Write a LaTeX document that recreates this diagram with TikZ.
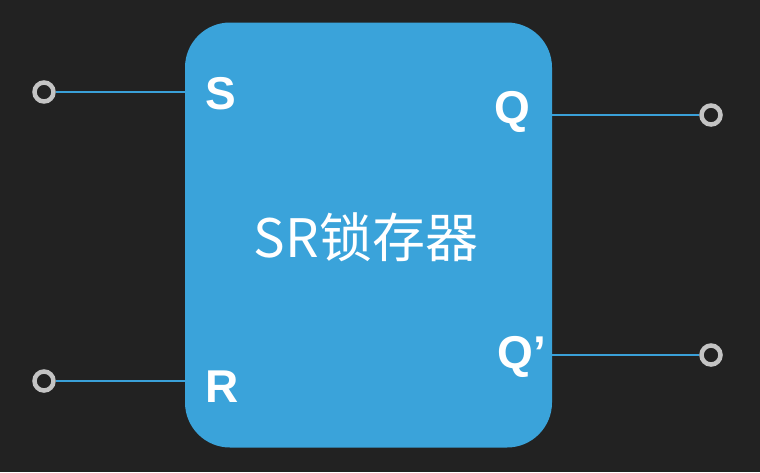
\documentclass[tikz,border=0pt]{standalone}
\usepackage{fontspec}
\setmainfont{Liberation Sans}
\newfontfamily\cjk{Noto Sans CJK SC}
\definecolor{bg}{RGB}{34,34,34}
\definecolor{boxblue}{RGB}{58,163,218}
\definecolor{wire}{RGB}{58,160,216}
\definecolor{pin}{RGB}{196,196,196}
\begin{document}
\begin{tikzpicture}[x=1pt,y=-1pt,
  pinnode/.style={circle,draw=pin,line width=4.5pt,minimum size=19pt,inner sep=0pt},
  wireline/.style={draw=wire,line width=2pt},
  portlabel/.style={text=white,font=\bfseries\fontsize{46}{46}\selectfont,inner sep=0pt},
  latchbox/.style={fill=boxblue,rounded corners=45pt,minimum width=367pt,minimum height=425pt,inner sep=0pt}]
\fill[bg] (0,0) rectangle (760,472);
\useasboundingbox (0,0) rectangle (760,472);
\node[latchbox] (box) at (368.5,235) {};
\node[text=white,inner sep=0pt,font=\cjk\fontsize{53}{53}\selectfont] (title) at (366,237) {SR锁存器};
\node[pinnode] (sin) at (44,92) {};
\node[pinnode] (rin) at (44,381) {};
\node[pinnode] (qout) at (711,115) {};
\node[pinnode] (qbout) at (711,355) {};
\coordinate (sb) at (box.west |- sin);
\coordinate (rb) at (box.west |- rin);
\coordinate (qb) at (box.east |- qout);
\coordinate (qbb) at (box.east |- qbout);
\draw[wireline] (sin.east) -- (sb);
\draw[wireline] (rin.east) -- (rb);
\draw[wireline] (qb) -- (qout.west);
\draw[wireline] (qbb) -- (qbout.west);
\node[portlabel] (slab) at (221,94) {S};
\node[portlabel] (rlab) at (222,387) {R};
\node[portlabel] (qlab) at (512,112) {Q};
\node[portlabel] (qblab) at (522,357) {Q’};
\end{tikzpicture}
\end{document}
